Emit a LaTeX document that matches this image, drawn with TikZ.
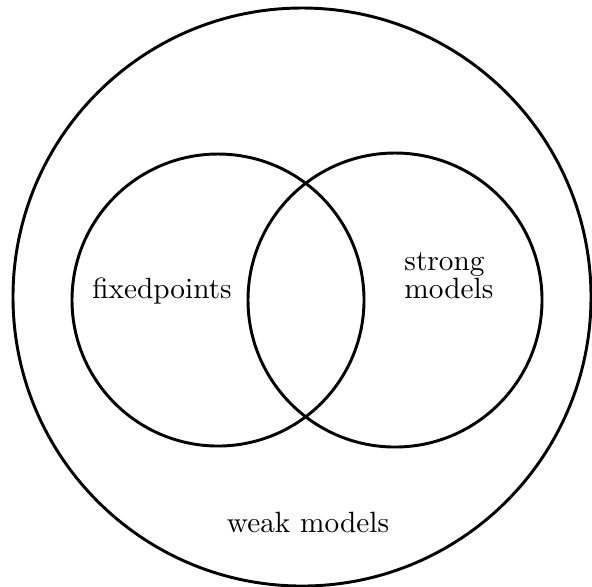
\documentclass[tikz,border=0pt]{standalone}
\begin{document}
\begin{tikzpicture}[x=0.012cm, y=0.012cm, line width=1pt,
		lbl/.style={inner sep=0pt, font=\fontsize{10}{9.7}\selectfont}]
		\useasboundingbox (0,0) rectangle (592,-586);
		% outer set
		\coordinate (weak) at (302,-297);
		\draw (weak) circle (289);
		\node[lbl, anchor=base] (weaklbl) at (308,-532) {weak models};
		
		% two inner sets
		\coordinate (fix) at (218,-300);
		\coordinate (strong) at (395,-300);
		\draw (fix) circle (146);
		\draw (strong) circle (147);
		\node[lbl, anchor=base] (fixlbl) at (162,-298) {fixedpoints};
		\node[lbl, anchor=north west, align=left] (stronglbl) at (403,-251) {strong\\models};
	\end{tikzpicture}
\end{document}
